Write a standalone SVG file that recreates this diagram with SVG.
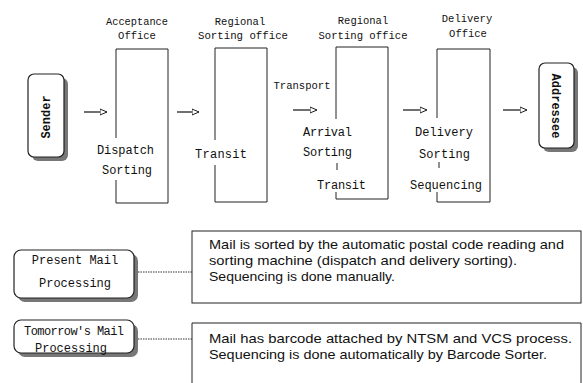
<svg xmlns="http://www.w3.org/2000/svg" width="583" height="383" viewBox="0 0 583 383">
<defs>
<marker id="ah" markerWidth="8" markerHeight="8" refX="7" refY="4" orient="auto" markerUnits="userSpaceOnUse">
<path d="M0,1 L7,4 L0,7 Z" fill="#fff" stroke="#222" stroke-width="1"/>
</marker>
</defs>
<style>
.bg{fill:#fff}
.ln{stroke:#222;stroke-width:1;fill:none}
.dot{stroke:#333;stroke-width:1;stroke-dasharray:1.5 1;fill:none}
.arr{stroke:#222;stroke-width:1.3;fill:none}
.rb{fill:#fff;stroke:#222;stroke-width:1.2}
.sh{fill:#777}
.mono{font-family:"Liberation Mono","DejaVu Sans Mono",monospace;font-size:12px;fill:#111}
.ttl{font-family:"Liberation Mono","DejaVu Sans Mono",monospace;font-size:10.5px;fill:#111;text-anchor:middle}
.rot{font-family:"Liberation Mono","DejaVu Sans Mono",monospace;font-size:12px;font-weight:bold;fill:#111;text-anchor:middle}
.desc{font-family:"Liberation Sans",Arial,sans-serif;font-size:13px;fill:#111}
</style>
<rect class="bg" x="0" y="0" width="583" height="383"/>

<g id="sender">
<rect class="sh" x="32" y="78" width="36" height="83" rx="6"/>
<rect class="rb" x="28" y="74" width="36" height="83" rx="6"/>
<text class="rot" transform="translate(50,117) rotate(-90)">Sender</text>
</g>

<g id="acceptance">
<text class="ttl" x="137" y="25" textLength="62" lengthAdjust="spacingAndGlyphs">Acceptance</text>
<text class="ttl" x="137" y="39">Office</text>
<path class="ln" d="M116,138 V49 H168 V203 H116 V180"/>
<text class="mono" x="97" y="154" textLength="57">Dispatch</text>
<text class="mono" x="102" y="174" textLength="50">Sorting</text>
</g>

<g id="regional1">
<text class="ttl" x="240" y="25">Regional</text>
<text class="ttl" x="243" y="39" textLength="90" lengthAdjust="spacingAndGlyphs">Sorting office</text>
<path class="ln" d="M215,140 V48 H267 V202 H215 V165"/>
<text class="mono" x="195" y="158" textLength="52">Transit</text>
</g>

<g id="regional2">
<text class="ttl" x="363" y="24">Regional</text>
<text class="ttl" x="363" y="39" textLength="89" lengthAdjust="spacingAndGlyphs">Sorting office</text>
<path class="ln" d="M336,119 V47 H388 V199 H336 V192"/>
<text class="mono" x="303" y="136" textLength="49">Arrival</text>
<text class="mono" x="303" y="156" textLength="49">Sorting</text>
<line class="ln" x1="337" y1="163" x2="337" y2="170"/>
<text class="mono" x="317" y="189" textLength="49">Transit</text>
</g>

<g id="delivery">
<text class="ttl" x="467" y="22">Delivery</text>
<text class="ttl" x="468" y="37">Office</text>
<path class="ln" d="M437,118 V49 H490 V202 H437 V192"/>
<text class="mono" x="415" y="136" textLength="58">Delivery</text>
<text class="mono" x="419" y="158" textLength="51">Sorting</text>
<line class="ln" x1="439" y1="162" x2="439" y2="168"/>
<text class="mono" x="410" y="189" textLength="72">Sequencing</text>
</g>

<g id="addressee">
<rect class="sh" x="543" y="67" width="35" height="85" rx="6"/>
<rect class="rb" x="539" y="63" width="35" height="85" rx="6"/>
<text class="rot" transform="translate(552,106) rotate(90)">Addressee</text>
</g>

<g id="present">
<rect class="sh" x="18" y="254" width="120" height="48" rx="7"/>
<rect class="rb" x="14" y="250" width="120" height="48" rx="7"/>
<text class="mono" x="75" y="264" text-anchor="middle">Present Mail</text>
<text class="mono" x="75" y="287" text-anchor="middle">Processing</text>
</g>

<g id="tomorrow">
<rect class="sh" x="18" y="324" width="120" height="33" rx="7"/>
<rect class="rb" x="14" y="320" width="120" height="33" rx="7"/>
<text class="mono" x="74" y="335" text-anchor="middle" textLength="100">Tomorrow's Mail</text>
<text class="mono" x="71" y="352" text-anchor="middle">Processing</text>
</g>

<g id="desc1">
<rect class="ln" x="192" y="231" width="389" height="72"/>
<text class="desc" x="209" y="248.5" textLength="355" lengthAdjust="spacingAndGlyphs">Mail is sorted by the automatic postal code reading and</text>
<text class="desc" x="209" y="264.5" textLength="308" lengthAdjust="spacingAndGlyphs">sorting machine (dispatch and delivery sorting).</text>
<text class="desc" x="209" y="281" textLength="186" lengthAdjust="spacingAndGlyphs">Sequencing is done manually.</text>
</g>

<g id="desc2">
<path class="ln" d="M192,384 V323 H581 V384"/>
<text class="desc" x="209" y="342.5" textLength="363" lengthAdjust="spacingAndGlyphs">Mail has barcode attached by NTSM and VCS process.</text>
<text class="desc" x="209" y="358.5" textLength="338" lengthAdjust="spacingAndGlyphs">Sequencing is done automatically by Barcode Sorter.</text>
</g>

<g id="connectors">
<line class="arr" x1="84" y1="112" x2="107" y2="112" marker-end="url(#ah)"/>
<line class="arr" x1="177" y1="112" x2="199" y2="112" marker-end="url(#ah)"/>
<text class="ttl" x="302" y="89" textLength="57" lengthAdjust="spacingAndGlyphs">Transport</text>
<line class="arr" x1="293" y1="110" x2="317" y2="110" marker-end="url(#ah)"/>
<line class="arr" x1="403" y1="110" x2="427" y2="110" marker-end="url(#ah)"/>
<line class="arr" x1="503" y1="110" x2="527" y2="110" marker-end="url(#ah)"/>
<line class="dot" x1="138" y1="272" x2="192" y2="272"/>
<line class="dot" x1="138" y1="339" x2="192" y2="339"/>
</g>
</svg>
